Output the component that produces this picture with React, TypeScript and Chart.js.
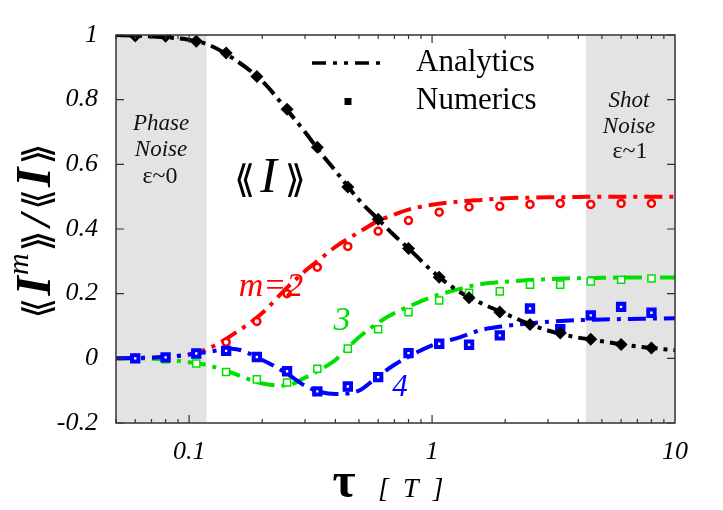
import React, { useEffect, useRef } from "react";
import { Chart, registerables } from "chart.js";

Chart.register(...registerables);

// ---- data ----
const tauNumerics = [0.06, 0.08, 0.107, 0.142, 0.19, 0.253, 0.337, 0.45, 0.6, 0.8, 1.07, 1.42, 1.9, 2.53, 3.37, 4.5, 6, 8];
const numI = [0.997, 0.996, 0.981, 0.944, 0.872, 0.77, 0.653, 0.53, 0.43, 0.34, 0.251, 0.187, 0.143, 0.105, 0.078, 0.059, 0.043, 0.032];
const numM2 = [0, 0.002, 0.015, 0.05, 0.114, 0.2, 0.282, 0.346, 0.393, 0.426, 0.452, 0.468, 0.47, 0.476, 0.479, 0.476, 0.479, 0.479];
const numM3 = [0, -0.003, -0.016, -0.042, -0.065, -0.075, -0.032, 0.03, 0.09, 0.143, 0.179, 0.203, 0.207, 0.228, 0.228, 0.238, 0.243, 0.247];
const numM4 = [0, 0.003, 0.015, 0.023, 0.004, -0.04, -0.102, -0.087, -0.058, 0.016, 0.045, 0.042, 0.071, 0.154, 0.09, 0.133, 0.159, 0.141];

const tauAnalytics = [0.05, 0.06, 0.08, 0.1, 0.12, 0.15, 0.2, 0.25, 0.3, 0.35, 0.4, 0.5, 0.6, 0.7, 0.8, 1, 1.3, 1.6, 2, 2.5, 3, 4, 5, 6.5, 8, 10];
const anaI = [1.0, 0.998, 0.993, 0.985, 0.97, 0.93, 0.857, 0.773, 0.7, 0.633, 0.58, 0.49, 0.43, 0.38, 0.34, 0.27, 0.205, 0.17, 0.138, 0.107, 0.086, 0.064, 0.053, 0.04, 0.032, 0.025];
const anaM2 = [0, 0.001, 0.004, 0.012, 0.03, 0.072, 0.14, 0.215, 0.27, 0.31, 0.345, 0.39, 0.425, 0.445, 0.46, 0.475, 0.485, 0.49, 0.495, 0.497, 0.498, 0.499, 0.5, 0.5, 0.5, 0.5];
const anaM3 = [0, 0, -0.004, -0.012, -0.022, -0.045, -0.078, -0.084, -0.06, -0.033, -0.005, 0.065, 0.11, 0.14, 0.16, 0.19, 0.215, 0.23, 0.237, 0.242, 0.245, 0.248, 0.249, 0.25, 0.25, 0.25];
const anaM4 = [0, 0.001, 0.004, 0.012, 0.02, 0.03, -0.005, -0.045, -0.085, -0.105, -0.11, -0.1, -0.055, -0.02, 0.005, 0.04, 0.065, 0.088, 0.1, 0.108, 0.113, 0.118, 0.12, 0.122, 0.123, 0.124];

const xMin = 0.05;
const xMax = 10;
const yMin = -0.2;
const yMax = 1;
const xTickLabels = [0.1, 1, 10];
const phaseNoiseRange = [0.05, 0.118];
const shotNoiseRange = [4.3, 10];

const SERIF = '"Liberation Serif", "Times New Roman", serif';
const MATH = '"DejaVu Sans", "DejaVu Serif", sans-serif';

const RED = "#ff0000";
const GREEN = "#00e000";
const BLUE = "#0000ff";
const BLACK = "#000000";

const pts = (xs: number[], ys: number[]) => xs.map((x, i) => ({ x, y: ys[i] }));

type Piece = { t: string; font: string; dy?: number; gap?: number };

function drawPieces(ctx: CanvasRenderingContext2D, pieces: Piece[], cx: number, baseY: number, color: string) {
  ctx.fillStyle = color;
  ctx.textBaseline = "alphabetic";
  ctx.textAlign = "left";
  let total = 0;
  const widths = pieces.map((p) => {
    ctx.font = p.font;
    const w = ctx.measureText(p.t).width + (p.gap || 0);
    total += w;
    return w;
  });
  let x = cx - total / 2;
  pieces.forEach((p, i) => {
    ctx.font = p.font;
    ctx.fillText(p.t, x, baseY + (p.dy || 0));
    x += widths[i];
  });
}

const overlayPlugin = {
  id: "overlay",
  beforeDatasetsDraw(chart: any) {
    const { ctx, chartArea, scales } = chart;
    const xs = scales.x;
    ctx.save();
    ctx.fillStyle = "#e3e3e3";
    [phaseNoiseRange, shotNoiseRange].forEach(([a, b]) => {
      const x0 = xs.getPixelForValue(a);
      const x1 = xs.getPixelForValue(b);
      ctx.fillRect(x0, chartArea.top, x1 - x0, chartArea.bottom - chartArea.top);
    });
    ctx.restore();
  },
  afterDatasetsDraw(chart: any) {
    const { ctx, chartArea, scales } = chart;
    const xs = scales.x;
    const ys = scales.y;
    const { left, right, top, bottom } = chartArea;
    ctx.save();
    ctx.strokeStyle = "#333333";
    ctx.lineWidth = 1.5;
    ctx.setLineDash([]);
    ctx.strokeRect(left, top, right - left, bottom - top);
    ctx.lineWidth = 1.2;
    ctx.beginPath();
    ys.ticks.forEach((t: any) => {
      const py = ys.getPixelForValue(t.value);
      ctx.moveTo(left, py);
      ctx.lineTo(left + 8, py);
      ctx.moveTo(right, py);
      ctx.lineTo(right - 8, py);
    });
    [0.01, 0.1, 1].forEach((d) => {
      for (let k = 1; k <= 9; k++) {
        const v = k * d;
        if (v < xMin - 1e-9 || v > xMax + 1e-9) continue;
        const px = xs.getPixelForValue(v);
        const len = k === 1 ? 8 : 4;
        ctx.moveTo(px, bottom);
        ctx.lineTo(px, bottom - len);
        ctx.moveTo(px, top);
        ctx.lineTo(px, top + len);
      }
    });
    ctx.stroke();
    ctx.restore();
  },
  afterDraw(chart: any) {
    const { ctx } = chart;
    ctx.save();
    ctx.textAlign = "center";
    ctx.textBaseline = "middle";
    ctx.fillStyle = "#111";
    ctx.font = `italic 23px ${SERIF}`;
    ctx.fillText("Phase", 161, 124);
    ctx.fillText("Noise", 161, 150);
    ctx.font = `24px ${SERIF}`;
    ctx.fillText("ε~0", 160, 177);
    ctx.font = `italic 23px ${SERIF}`;
    ctx.fillText("Shot", 629, 101);
    ctx.fillText("Noise", 629, 127);
    ctx.font = `24px ${SERIF}`;
    ctx.fillText("ε~1", 630, 152);

    // legend
    ctx.strokeStyle = BLACK;
    ctx.lineWidth = 3.5;
    ctx.setLineDash([14, 7, 4, 7, 4, 7]);
    ctx.beginPath();
    ctx.moveTo(312, 63);
    ctx.lineTo(383, 63);
    ctx.stroke();
    ctx.setLineDash([]);
    ctx.fillStyle = BLACK;
    ctx.fillRect(344.5, 98, 7, 7);
    ctx.font = `31px ${SERIF}`;
    ctx.textAlign = "left";
    ctx.fillText("Analytics", 416, 63);
    ctx.fillText("Numerics", 416, 101);

    drawPieces(
      ctx,
      [
        { t: "⟪", font: `38px ${MATH}`, gap: 5 },
        { t: "I", font: `italic 50px ${SERIF}`, gap: 8 },
        { t: "⟫", font: `38px ${MATH}` },
      ],
      270,
      192,
      "#000"
    );

    ctx.textAlign = "center";
    ctx.textBaseline = "alphabetic";
    ctx.font = `italic 34px ${SERIF}`;
    ctx.fillStyle = RED;
    ctx.fillText("m=2", 271, 296);
    ctx.fillStyle = GREEN;
    ctx.fillText("3", 342, 330);
    ctx.font = `italic 31px ${SERIF}`;
    ctx.fillStyle = BLUE;
    ctx.fillText("4", 400, 396);

    // x axis title
    ctx.fillStyle = "#000";
    ctx.font = `bold 50px ${SERIF}`;
    ctx.fillText("τ", 344, 497);
    ctx.font = `italic 28px ${SERIF}`;
    ctx.textAlign = "left";
    ctx.fillText("[  T  ]", 378, 497);

    // y axis title (rotated)
    ctx.save();
    ctx.translate(50, 231);
    ctx.rotate(-Math.PI / 2);
    drawPieces(
      ctx,
      [
        { t: "⟪", font: `38px ${MATH}`, gap: 2 },
        { t: "I", font: `italic bold 50px ${SERIF}`, gap: 1 },
        { t: "m", font: `italic 30px ${SERIF}`, dy: -22, gap: 2 },
        { t: "⟫", font: `38px ${MATH}`, gap: 4 },
        { t: "/", font: `italic bold 44px ${SERIF}`, gap: 4 },
        { t: "⟪", font: `38px ${MATH}`, gap: 2 },
        { t: "I", font: `italic bold 50px ${SERIF}`, gap: 3 },
        { t: "⟫", font: `38px ${MATH}` },
      ],
      0,
      0,
      "#000"
    );
    ctx.restore();
    ctx.restore();
  },
};

export default function App() {
  const ref = useRef<HTMLCanvasElement | null>(null);
  useEffect(() => {
    if (!ref.current) return;
    const lineDs = (label: string, ys: number[], color: string, dash: number[], order: number) => ({
      label,
      data: pts(tauAnalytics, ys),
      borderColor: color,
      backgroundColor: color,
      borderWidth: 4,
      borderDash: dash,
      pointRadius: 0,
      cubicInterpolationMode: "monotone" as const,
      fill: false,
      order,
    });
    const pointDs = (label: string, ys: number[], style: any, order: number) => ({
      label,
      data: pts(tauNumerics, ys),
      showLine: false,
      ...style,
      order,
    });
    const chart = new Chart(ref.current, {
      type: "line",
      data: {
        datasets: [
          lineDs("m=2 analytics", anaM2, RED, [18, 7, 4, 7], 10),
          lineDs("m=3 analytics", anaM3, GREEN, [18, 7, 4, 7], 9),
          lineDs("m=4 analytics", anaM4, BLUE, [18, 7, 4, 7], 8),
          lineDs("I analytics", anaI, BLACK, [16, 6, 4, 6], 7),
          pointDs("m=2 numerics", numM2, {
            pointStyle: "circle",
            pointRadius: 3.5,
            pointBorderWidth: 2.5,
            pointBorderColor: RED,
            pointBackgroundColor: "#fff",
            borderColor: RED,
          }, 5),
          pointDs("m=3 numerics", numM3, {
            pointStyle: "rect",
            pointRadius: 5,
            pointBorderWidth: 1.5,
            pointBorderColor: GREEN,
            pointBackgroundColor: "#fff",
            borderColor: GREEN,
          }, 4),
          pointDs("m=4 numerics", numM4, {
            pointStyle: "rect",
            pointRadius: 4.5,
            pointBorderWidth: 4,
            pointBorderColor: BLUE,
            pointBackgroundColor: "#fff",
            borderColor: BLUE,
          }, 3),
          pointDs("I numerics", numI, {
            pointStyle: "rectRot",
            pointRadius: 6.5,
            pointBorderWidth: 0,
            pointBackgroundColor: BLACK,
            borderColor: BLACK,
          }, 2),
        ],
      },
      options: {
        animation: false,
        responsive: false,
        devicePixelRatio: 1,
        layout: { padding: { left: 0, top: 35, right: 48, bottom: 0 } },
        plugins: { legend: { display: false }, tooltip: { enabled: false } },
        scales: {
          x: {
            type: "logarithmic",
            min: xMin,
            max: xMax,
            grid: { display: false, drawTicks: false },
            border: { display: false },
            ticks: {
              autoSkip: false,
              maxRotation: 0,
              padding: 14,
              color: "#000",
              font: { family: SERIF, size: 26, style: "italic" },
              callback: (v: any) => {
                const n = Number(v);
                const hit = xTickLabels.find((t) => Math.abs(t - n) / t < 1e-6);
                return hit !== undefined ? String(hit) : "";
              },
            },
            afterFit: (s: any) => {
              s.height = 87;
            },
          },
          y: {
            min: yMin,
            max: yMax,
            grid: { display: false, drawTicks: false },
            border: { display: false },
            ticks: {
              stepSize: 0.2,
              padding: 18,
              color: "#000",
              font: { family: SERIF, size: 26, style: "italic" },
              callback: (v: any) => String(Math.round(Number(v) * 10) / 10),
            },
            afterFit: (s: any) => {
              s.width = 116;
            },
          },
        },
      },
      plugins: [overlayPlugin],
    });
    return () => chart.destroy();
  }, []);
  return (
    <div style={{ position: "absolute", left: 0, top: 0, width: 723, height: 510, background: "#fff" }}>
      <canvas ref={ref} width={723} height={510} style={{ width: 723, height: 510 }} />
    </div>
  );
}
